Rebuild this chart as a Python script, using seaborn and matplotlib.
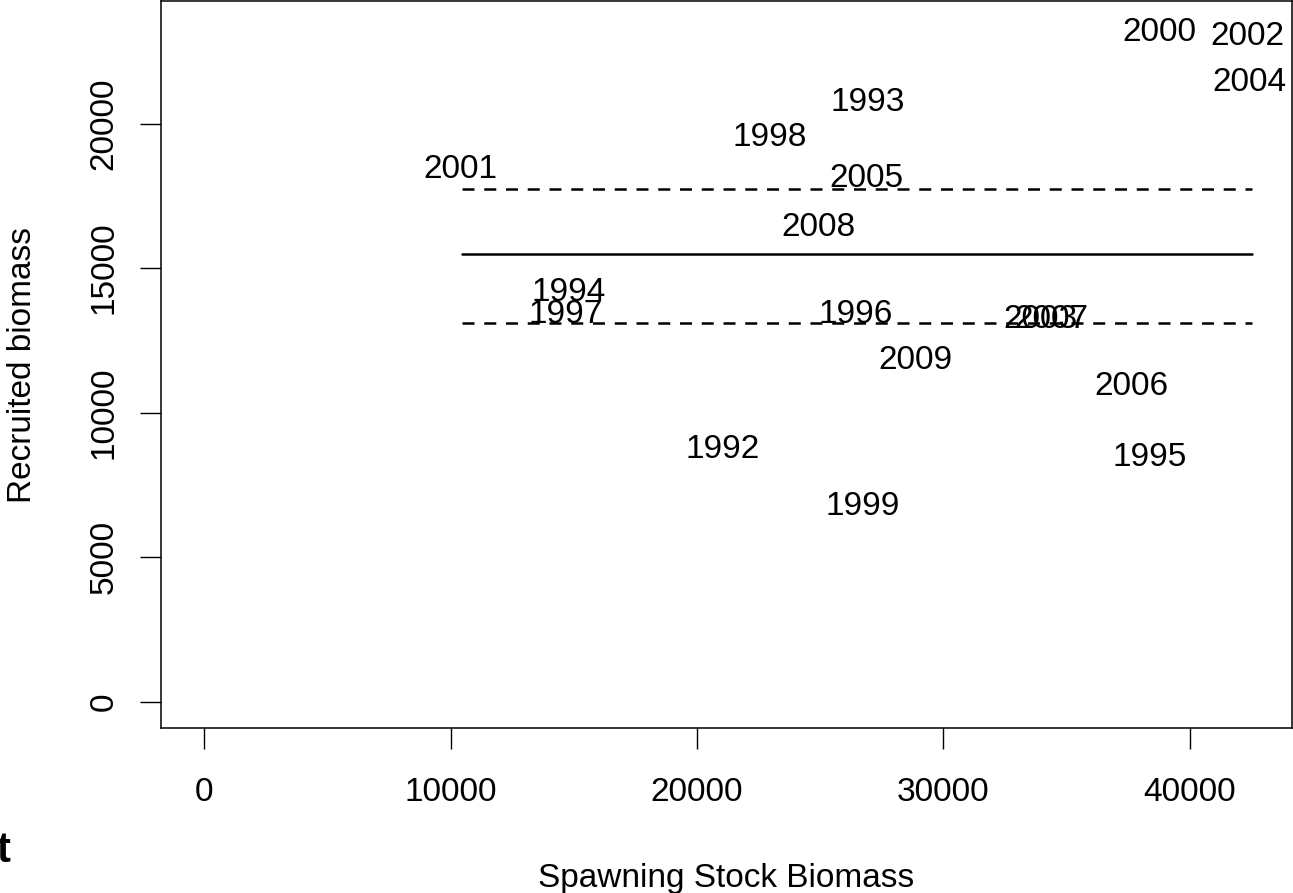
import pandas as pd
import matplotlib.pyplot as plt
import matplotlib.transforms as mtransforms
import seaborn as sns

# Stock-recruitment: year labels placed at (SSB, recruits)
years = [1992, 1993, 1994, 1995, 1996, 1997, 1998, 1999, 2000, 2001,
         2002, 2003, 2004, 2005, 2006, 2007, 2008, 2009]
ssb = [21040, 26950, 14790, 38380, 26440, 14650, 22950, 26720, 38760, 10380,
       42360, 33930, 42420, 26890, 37630, 34380, 24940, 28860]
recruits = [8820, 20810, 14240, 8530, 13480, 13480, 19600, 6850, 23240, 18480,
            23110, 13320, 21520, 18170, 11000, 13320, 16490, 11900]

# mean recruitment and the band around it
line_x = [10460, 42540]
mean_r = 15470
upper_r = 17750
lower_r = 13100

xticks = [0, 10000, 20000, 30000, 40000]
yticks = [0, 5000, 10000, 15000, 20000]

sns.set_theme(style="white")
plt.rcParams['font.family'] = ['Liberation Sans', 'DejaVu Sans']

fig = plt.figure(figsize=(12.93, 8.93), dpi=100)
W, H = 1293, 893
ax = fig.add_axes([161 / W, (H - 728.3) / H, (1292 - 161) / W, (728.3 - 1) / H])

lines = pd.DataFrame({
    'x': line_x * 3,
    'y': [mean_r] * 2 + [upper_r] * 2 + [lower_r] * 2,
    'kind': ['mean'] * 2 + ['upper'] * 2 + ['lower'] * 2,
})
sns.lineplot(data=lines[lines.kind == 'mean'], x='x', y='y', color='black',
             linewidth=1.8, ax=ax, estimator=None)
for k in ['upper', 'lower']:
    sns.lineplot(data=lines[lines.kind == k], x='x', y='y', color='black',
                 linewidth=1.8, ax=ax, estimator=None, dashes=False,
                 linestyle=(0, (4.8, 3.9)))

# R centres labels on the glyphs, so nudge down a little
txt_trans = mtransforms.offset_copy(ax.transData, fig=fig, x=0, y=-2.5, units='dots')
for yr, xv, yv in zip(years, ssb, recruits):
    ax.text(xv, yv, str(yr), ha='center', va='center', fontsize=24,
            color='black', transform=txt_trans)

ax.set_xlim(-1758, 44160)
ax.set_ylim(-927, 24240)
ax.set_xticks(xticks)
ax.set_yticks(yticks)
ax.set_xticklabels([str(v) for v in xticks])
ax.set_yticklabels([str(v) for v in yticks], rotation=90, va='center')
ax.tick_params(axis='both', direction='out', length=15, width=1, color='black',
               labelsize=24, labelcolor='black', bottom=True, left=True)
ax.tick_params(axis='x', pad=20)
ax.tick_params(axis='y', pad=15)
for s in ax.spines.values():
    s.set_visible(True)
    s.set_color('black')
    s.set_linewidth(1.1)

ax.set_xlabel('Spawning Stock Biomass', fontsize=24, labelpad=40, color='black')
ax.set_ylabel('Recruited biomass', fontsize=24, labelpad=36, color='black')

# cut-off fragment of a panel title at the lower left
fig.text(10 / W, (H - 862) / H, 't', ha='right', va='baseline', fontsize=30,
         fontweight='bold', color='black')

fig.savefig('out.png', dpi=100)
